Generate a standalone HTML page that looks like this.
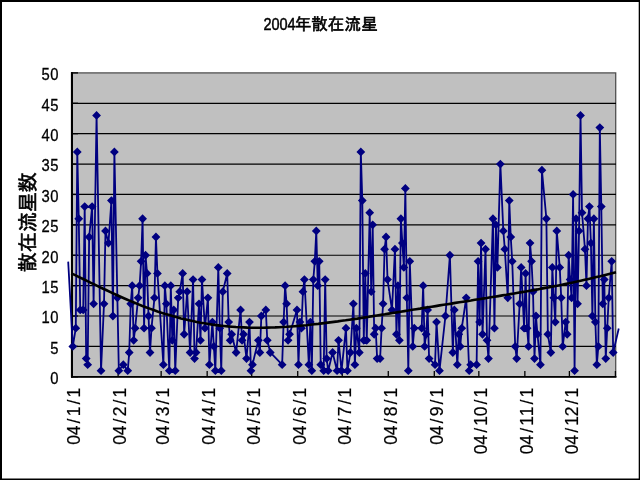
<!DOCTYPE html>
<html><head><meta charset="utf-8"><style>
html,body{margin:0;padding:0;background:#fff;}
#c{position:relative;width:640px;height:480px;overflow:hidden;background:#fff;}
svg{position:absolute;left:0;top:0;will-change:transform;}
text{font-family:"Liberation Sans","IPAGothic",sans-serif;fill:#000;}
</style></head><body><div id="c">
<svg width="640" height="480" viewBox="0 0 640 480">
<rect x="1" y="1" width="638.7" height="478.5" fill="#fff" stroke="#000" stroke-width="2"/>
<rect x="71.5" y="72.9" width="544.2" height="303.9" fill="#c0c0c0" stroke="#505050" stroke-width="1.3"/>
<g stroke="#000" stroke-width="1.2"><line x1="71" x2="616" y1="346.41" y2="346.41"/><line x1="71" x2="616" y1="316.02" y2="316.02"/><line x1="71" x2="616" y1="285.63" y2="285.63"/><line x1="71" x2="616" y1="255.24" y2="255.24"/><line x1="71" x2="616" y1="224.85" y2="224.85"/><line x1="71" x2="616" y1="194.46" y2="194.46"/><line x1="71" x2="616" y1="164.07" y2="164.07"/><line x1="71" x2="616" y1="133.68" y2="133.68"/><line x1="71" x2="616" y1="103.29" y2="103.29"/></g>
<g stroke="#000" stroke-width="1.3"><line x1="71" x2="78" y1="376.80" y2="376.80"/><line x1="71" x2="78" y1="346.41" y2="346.41"/><line x1="71" x2="78" y1="316.02" y2="316.02"/><line x1="71" x2="78" y1="285.63" y2="285.63"/><line x1="71" x2="78" y1="255.24" y2="255.24"/><line x1="71" x2="78" y1="224.85" y2="224.85"/><line x1="71" x2="78" y1="194.46" y2="194.46"/><line x1="71" x2="78" y1="164.07" y2="164.07"/><line x1="71" x2="78" y1="133.68" y2="133.68"/><line x1="71" x2="78" y1="103.29" y2="103.29"/><line x1="71" x2="78" y1="72.90" y2="72.90"/><line x1="72.08" x2="72.08" y1="371" y2="377"/><line x1="118.10" x2="118.10" y1="371" y2="377"/><line x1="161.15" x2="161.15" y1="371" y2="377"/><line x1="207.17" x2="207.17" y1="371" y2="377"/><line x1="251.70" x2="251.70" y1="371" y2="377"/><line x1="297.72" x2="297.72" y1="371" y2="377"/><line x1="342.26" x2="342.26" y1="371" y2="377"/><line x1="388.28" x2="388.28" y1="371" y2="377"/><line x1="434.30" x2="434.30" y1="371" y2="377"/><line x1="478.83" x2="478.83" y1="371" y2="377"/><line x1="524.85" x2="524.85" y1="371" y2="377"/><line x1="569.39" x2="569.39" y1="371" y2="377"/><line x1="615.41" x2="615.41" y1="371" y2="377"/></g>
<line x1="72" y1="72.2" x2="72" y2="377.6" stroke="#000" stroke-width="2"/>
<line x1="71" y1="376.9" x2="616.4" y2="376.9" stroke="#000" stroke-width="1.8"/>
<polyline points="68.2,261.6 72.82,346.41 75.79,328.18 77.28,151.91 78.76,218.77 80.24,309.94 83.21,309.94 84.70,206.62 86.18,358.57 87.67,364.64 89.15,237.01 92.12,206.62 93.61,303.86 96.57,115.45 101.03,370.72 104.00,303.86 105.48,230.93 108.45,243.08 111.42,200.54 112.90,316.02 114.39,151.91 117.36,297.79 118.84,370.72 123.30,364.64 127.75,370.72 129.23,352.49 130.72,303.86 132.20,285.63 133.69,340.33 135.17,328.18 138.14,297.79 139.62,285.63 141.11,261.32 142.59,218.77 144.08,328.18 145.56,255.24 147.05,273.47 148.53,316.02 150.02,352.49 151.50,328.18 154.47,297.79 155.95,237.01 157.44,273.47 163.38,364.64 164.86,285.63 166.35,303.86 169.31,370.72 170.80,285.63 172.28,340.33 173.77,309.94 175.25,370.72 178.22,297.79 179.71,291.71 182.68,273.47 184.16,334.25 187.13,291.71 190.10,352.49 193.07,279.55 194.55,358.57 196.04,352.49 199.00,303.86 200.49,340.33 201.97,279.55 204.94,328.18 207.91,297.79 209.40,364.64 212.37,322.10 213.85,346.41 215.33,370.72 218.30,267.40 219.79,328.18 221.27,370.72 222.76,291.71 227.21,273.47 228.69,322.10 230.18,340.33 231.66,334.25 236.12,352.49 240.57,309.94 242.06,340.33 243.54,334.25 246.51,358.57 249.48,322.10 250.96,370.72 252.45,364.64 258.38,340.33 259.87,352.49 261.35,316.02 265.81,309.94 267.29,340.33 270.26,352.49 282.14,364.64 283.62,322.10 285.11,285.63 286.59,303.86 288.07,340.33 289.56,334.25 296.98,309.94 298.47,364.64 299.95,322.10 301.44,328.18 302.92,291.71 304.40,279.55 308.86,364.64 310.34,322.10 311.83,370.72 313.31,279.55 314.80,261.32 316.28,230.93 317.76,285.63 319.25,261.32 320.73,364.64 323.70,370.72 325.19,279.55 326.67,358.57 328.16,370.72 332.61,352.49 337.06,370.72 338.55,340.33 341.52,370.72 345.97,328.18 347.45,370.72 350.42,352.49 353.39,303.86 354.88,364.64 356.36,328.18 359.33,352.49 360.82,151.91 362.30,200.54 363.78,340.33 365.27,273.47 366.75,340.33 369.72,212.69 371.21,291.71 372.69,224.85 374.18,334.25 375.66,328.18 377.14,358.57 380.11,358.57 381.60,328.18 383.08,303.86 384.57,249.16 386.05,237.01 387.54,279.55 391.99,309.94 394.96,249.16 396.44,334.25 397.93,285.63 399.41,340.33 400.90,218.77 402.38,243.08 403.87,267.40 405.35,188.38 406.83,297.79 408.32,370.72 409.80,261.32 412.77,346.41 414.26,328.18 421.68,328.18 423.16,285.63 424.65,346.41 426.13,334.25 427.62,309.94 429.10,358.57 435.04,364.64 436.52,322.10 439.49,370.72 445.43,316.02 449.89,255.24 452.85,352.49 454.34,309.94 457.31,364.64 458.79,334.25 460.28,346.41 461.76,328.18 466.21,297.79 469.18,370.72 470.67,364.64 476.61,364.64 478.09,261.32 479.58,322.10 481.06,243.08 482.54,334.25 485.51,249.16 487.00,340.33 488.48,358.57 492.94,218.77 494.42,328.18 495.90,224.85 497.39,267.40 500.36,164.07 503.33,230.93 504.81,249.16 507.78,297.79 509.27,200.54 510.75,237.01 512.23,261.32 515.20,346.41 516.69,358.57 519.66,303.86 521.14,267.40 524.11,328.18 525.59,273.47 527.08,328.18 528.56,346.41 530.05,243.08 531.53,261.32 533.02,291.71 534.50,358.57 535.99,316.02 537.47,334.25 540.44,364.64 541.92,170.15 546.38,218.77 547.86,334.25 550.83,352.49 552.32,267.40 553.80,297.79 555.28,322.10 556.77,230.93 559.74,267.40 561.22,297.79 562.71,346.41 565.68,322.10 567.16,334.25 568.65,255.24 570.13,279.55 571.61,297.79 573.10,194.46 574.58,370.72 576.07,218.77 577.55,303.86 579.04,230.93 580.52,115.45 582.01,212.69 584.97,249.16 586.46,285.63 587.94,218.77 589.43,206.62 590.91,243.08 592.40,316.02 593.88,218.77 595.37,322.10 596.85,364.64 598.34,346.41 599.82,127.60 601.30,206.62 602.79,303.86 604.27,279.55 605.76,358.57 607.24,328.18 608.73,297.79 611.70,261.32 613.18,352.49 618.75,328.5" fill="none" stroke="#000080" stroke-width="1.8" stroke-linejoin="round"/>
<path d="M72.82 342.01l4.4 4.4 -4.4 4.4 -4.4 -4.4zM75.79 323.78l4.4 4.4 -4.4 4.4 -4.4 -4.4zM77.28 147.51l4.4 4.4 -4.4 4.4 -4.4 -4.4zM78.76 214.37l4.4 4.4 -4.4 4.4 -4.4 -4.4zM80.24 305.54l4.4 4.4 -4.4 4.4 -4.4 -4.4zM83.21 305.54l4.4 4.4 -4.4 4.4 -4.4 -4.4zM84.70 202.22l4.4 4.4 -4.4 4.4 -4.4 -4.4zM86.18 354.17l4.4 4.4 -4.4 4.4 -4.4 -4.4zM87.67 360.24l4.4 4.4 -4.4 4.4 -4.4 -4.4zM89.15 232.61l4.4 4.4 -4.4 4.4 -4.4 -4.4zM92.12 202.22l4.4 4.4 -4.4 4.4 -4.4 -4.4zM93.61 299.46l4.4 4.4 -4.4 4.4 -4.4 -4.4zM96.57 111.05l4.4 4.4 -4.4 4.4 -4.4 -4.4zM101.03 366.32l4.4 4.4 -4.4 4.4 -4.4 -4.4zM104.00 299.46l4.4 4.4 -4.4 4.4 -4.4 -4.4zM105.48 226.53l4.4 4.4 -4.4 4.4 -4.4 -4.4zM108.45 238.68l4.4 4.4 -4.4 4.4 -4.4 -4.4zM111.42 196.14l4.4 4.4 -4.4 4.4 -4.4 -4.4zM112.90 311.62l4.4 4.4 -4.4 4.4 -4.4 -4.4zM114.39 147.51l4.4 4.4 -4.4 4.4 -4.4 -4.4zM117.36 293.39l4.4 4.4 -4.4 4.4 -4.4 -4.4zM118.84 366.32l4.4 4.4 -4.4 4.4 -4.4 -4.4zM123.30 360.24l4.4 4.4 -4.4 4.4 -4.4 -4.4zM127.75 366.32l4.4 4.4 -4.4 4.4 -4.4 -4.4zM129.23 348.09l4.4 4.4 -4.4 4.4 -4.4 -4.4zM130.72 299.46l4.4 4.4 -4.4 4.4 -4.4 -4.4zM132.20 281.23l4.4 4.4 -4.4 4.4 -4.4 -4.4zM133.69 335.93l4.4 4.4 -4.4 4.4 -4.4 -4.4zM135.17 323.78l4.4 4.4 -4.4 4.4 -4.4 -4.4zM138.14 293.39l4.4 4.4 -4.4 4.4 -4.4 -4.4zM139.62 281.23l4.4 4.4 -4.4 4.4 -4.4 -4.4zM141.11 256.92l4.4 4.4 -4.4 4.4 -4.4 -4.4zM142.59 214.37l4.4 4.4 -4.4 4.4 -4.4 -4.4zM144.08 323.78l4.4 4.4 -4.4 4.4 -4.4 -4.4zM145.56 250.84l4.4 4.4 -4.4 4.4 -4.4 -4.4zM147.05 269.07l4.4 4.4 -4.4 4.4 -4.4 -4.4zM148.53 311.62l4.4 4.4 -4.4 4.4 -4.4 -4.4zM150.02 348.09l4.4 4.4 -4.4 4.4 -4.4 -4.4zM151.50 323.78l4.4 4.4 -4.4 4.4 -4.4 -4.4zM154.47 293.39l4.4 4.4 -4.4 4.4 -4.4 -4.4zM155.95 232.61l4.4 4.4 -4.4 4.4 -4.4 -4.4zM157.44 269.07l4.4 4.4 -4.4 4.4 -4.4 -4.4zM163.38 360.24l4.4 4.4 -4.4 4.4 -4.4 -4.4zM164.86 281.23l4.4 4.4 -4.4 4.4 -4.4 -4.4zM166.35 299.46l4.4 4.4 -4.4 4.4 -4.4 -4.4zM169.31 366.32l4.4 4.4 -4.4 4.4 -4.4 -4.4zM170.80 281.23l4.4 4.4 -4.4 4.4 -4.4 -4.4zM172.28 335.93l4.4 4.4 -4.4 4.4 -4.4 -4.4zM173.77 305.54l4.4 4.4 -4.4 4.4 -4.4 -4.4zM175.25 366.32l4.4 4.4 -4.4 4.4 -4.4 -4.4zM178.22 293.39l4.4 4.4 -4.4 4.4 -4.4 -4.4zM179.71 287.31l4.4 4.4 -4.4 4.4 -4.4 -4.4zM182.68 269.07l4.4 4.4 -4.4 4.4 -4.4 -4.4zM184.16 329.85l4.4 4.4 -4.4 4.4 -4.4 -4.4zM187.13 287.31l4.4 4.4 -4.4 4.4 -4.4 -4.4zM190.10 348.09l4.4 4.4 -4.4 4.4 -4.4 -4.4zM193.07 275.15l4.4 4.4 -4.4 4.4 -4.4 -4.4zM194.55 354.17l4.4 4.4 -4.4 4.4 -4.4 -4.4zM196.04 348.09l4.4 4.4 -4.4 4.4 -4.4 -4.4zM199.00 299.46l4.4 4.4 -4.4 4.4 -4.4 -4.4zM200.49 335.93l4.4 4.4 -4.4 4.4 -4.4 -4.4zM201.97 275.15l4.4 4.4 -4.4 4.4 -4.4 -4.4zM204.94 323.78l4.4 4.4 -4.4 4.4 -4.4 -4.4zM207.91 293.39l4.4 4.4 -4.4 4.4 -4.4 -4.4zM209.40 360.24l4.4 4.4 -4.4 4.4 -4.4 -4.4zM212.37 317.70l4.4 4.4 -4.4 4.4 -4.4 -4.4zM213.85 342.01l4.4 4.4 -4.4 4.4 -4.4 -4.4zM215.33 366.32l4.4 4.4 -4.4 4.4 -4.4 -4.4zM218.30 263.00l4.4 4.4 -4.4 4.4 -4.4 -4.4zM219.79 323.78l4.4 4.4 -4.4 4.4 -4.4 -4.4zM221.27 366.32l4.4 4.4 -4.4 4.4 -4.4 -4.4zM222.76 287.31l4.4 4.4 -4.4 4.4 -4.4 -4.4zM227.21 269.07l4.4 4.4 -4.4 4.4 -4.4 -4.4zM228.69 317.70l4.4 4.4 -4.4 4.4 -4.4 -4.4zM230.18 335.93l4.4 4.4 -4.4 4.4 -4.4 -4.4zM231.66 329.85l4.4 4.4 -4.4 4.4 -4.4 -4.4zM236.12 348.09l4.4 4.4 -4.4 4.4 -4.4 -4.4zM240.57 305.54l4.4 4.4 -4.4 4.4 -4.4 -4.4zM242.06 335.93l4.4 4.4 -4.4 4.4 -4.4 -4.4zM243.54 329.85l4.4 4.4 -4.4 4.4 -4.4 -4.4zM246.51 354.17l4.4 4.4 -4.4 4.4 -4.4 -4.4zM249.48 317.70l4.4 4.4 -4.4 4.4 -4.4 -4.4zM250.96 366.32l4.4 4.4 -4.4 4.4 -4.4 -4.4zM252.45 360.24l4.4 4.4 -4.4 4.4 -4.4 -4.4zM258.38 335.93l4.4 4.4 -4.4 4.4 -4.4 -4.4zM259.87 348.09l4.4 4.4 -4.4 4.4 -4.4 -4.4zM261.35 311.62l4.4 4.4 -4.4 4.4 -4.4 -4.4zM265.81 305.54l4.4 4.4 -4.4 4.4 -4.4 -4.4zM267.29 335.93l4.4 4.4 -4.4 4.4 -4.4 -4.4zM270.26 348.09l4.4 4.4 -4.4 4.4 -4.4 -4.4zM282.14 360.24l4.4 4.4 -4.4 4.4 -4.4 -4.4zM283.62 317.70l4.4 4.4 -4.4 4.4 -4.4 -4.4zM285.11 281.23l4.4 4.4 -4.4 4.4 -4.4 -4.4zM286.59 299.46l4.4 4.4 -4.4 4.4 -4.4 -4.4zM288.07 335.93l4.4 4.4 -4.4 4.4 -4.4 -4.4zM289.56 329.85l4.4 4.4 -4.4 4.4 -4.4 -4.4zM296.98 305.54l4.4 4.4 -4.4 4.4 -4.4 -4.4zM298.47 360.24l4.4 4.4 -4.4 4.4 -4.4 -4.4zM299.95 317.70l4.4 4.4 -4.4 4.4 -4.4 -4.4zM301.44 323.78l4.4 4.4 -4.4 4.4 -4.4 -4.4zM302.92 287.31l4.4 4.4 -4.4 4.4 -4.4 -4.4zM304.40 275.15l4.4 4.4 -4.4 4.4 -4.4 -4.4zM308.86 360.24l4.4 4.4 -4.4 4.4 -4.4 -4.4zM310.34 317.70l4.4 4.4 -4.4 4.4 -4.4 -4.4zM311.83 366.32l4.4 4.4 -4.4 4.4 -4.4 -4.4zM313.31 275.15l4.4 4.4 -4.4 4.4 -4.4 -4.4zM314.80 256.92l4.4 4.4 -4.4 4.4 -4.4 -4.4zM316.28 226.53l4.4 4.4 -4.4 4.4 -4.4 -4.4zM317.76 281.23l4.4 4.4 -4.4 4.4 -4.4 -4.4zM319.25 256.92l4.4 4.4 -4.4 4.4 -4.4 -4.4zM320.73 360.24l4.4 4.4 -4.4 4.4 -4.4 -4.4zM323.70 366.32l4.4 4.4 -4.4 4.4 -4.4 -4.4zM325.19 275.15l4.4 4.4 -4.4 4.4 -4.4 -4.4zM326.67 354.17l4.4 4.4 -4.4 4.4 -4.4 -4.4zM328.16 366.32l4.4 4.4 -4.4 4.4 -4.4 -4.4zM332.61 348.09l4.4 4.4 -4.4 4.4 -4.4 -4.4zM337.06 366.32l4.4 4.4 -4.4 4.4 -4.4 -4.4zM338.55 335.93l4.4 4.4 -4.4 4.4 -4.4 -4.4zM341.52 366.32l4.4 4.4 -4.4 4.4 -4.4 -4.4zM345.97 323.78l4.4 4.4 -4.4 4.4 -4.4 -4.4zM347.45 366.32l4.4 4.4 -4.4 4.4 -4.4 -4.4zM350.42 348.09l4.4 4.4 -4.4 4.4 -4.4 -4.4zM353.39 299.46l4.4 4.4 -4.4 4.4 -4.4 -4.4zM354.88 360.24l4.4 4.4 -4.4 4.4 -4.4 -4.4zM356.36 323.78l4.4 4.4 -4.4 4.4 -4.4 -4.4zM359.33 348.09l4.4 4.4 -4.4 4.4 -4.4 -4.4zM360.82 147.51l4.4 4.4 -4.4 4.4 -4.4 -4.4zM362.30 196.14l4.4 4.4 -4.4 4.4 -4.4 -4.4zM363.78 335.93l4.4 4.4 -4.4 4.4 -4.4 -4.4zM365.27 269.07l4.4 4.4 -4.4 4.4 -4.4 -4.4zM366.75 335.93l4.4 4.4 -4.4 4.4 -4.4 -4.4zM369.72 208.29l4.4 4.4 -4.4 4.4 -4.4 -4.4zM371.21 287.31l4.4 4.4 -4.4 4.4 -4.4 -4.4zM372.69 220.45l4.4 4.4 -4.4 4.4 -4.4 -4.4zM374.18 329.85l4.4 4.4 -4.4 4.4 -4.4 -4.4zM375.66 323.78l4.4 4.4 -4.4 4.4 -4.4 -4.4zM377.14 354.17l4.4 4.4 -4.4 4.4 -4.4 -4.4zM380.11 354.17l4.4 4.4 -4.4 4.4 -4.4 -4.4zM381.60 323.78l4.4 4.4 -4.4 4.4 -4.4 -4.4zM383.08 299.46l4.4 4.4 -4.4 4.4 -4.4 -4.4zM384.57 244.76l4.4 4.4 -4.4 4.4 -4.4 -4.4zM386.05 232.61l4.4 4.4 -4.4 4.4 -4.4 -4.4zM387.54 275.15l4.4 4.4 -4.4 4.4 -4.4 -4.4zM391.99 305.54l4.4 4.4 -4.4 4.4 -4.4 -4.4zM394.96 244.76l4.4 4.4 -4.4 4.4 -4.4 -4.4zM396.44 329.85l4.4 4.4 -4.4 4.4 -4.4 -4.4zM397.93 281.23l4.4 4.4 -4.4 4.4 -4.4 -4.4zM399.41 335.93l4.4 4.4 -4.4 4.4 -4.4 -4.4zM400.90 214.37l4.4 4.4 -4.4 4.4 -4.4 -4.4zM402.38 238.68l4.4 4.4 -4.4 4.4 -4.4 -4.4zM403.87 263.00l4.4 4.4 -4.4 4.4 -4.4 -4.4zM405.35 183.98l4.4 4.4 -4.4 4.4 -4.4 -4.4zM406.83 293.39l4.4 4.4 -4.4 4.4 -4.4 -4.4zM408.32 366.32l4.4 4.4 -4.4 4.4 -4.4 -4.4zM409.80 256.92l4.4 4.4 -4.4 4.4 -4.4 -4.4zM412.77 342.01l4.4 4.4 -4.4 4.4 -4.4 -4.4zM414.26 323.78l4.4 4.4 -4.4 4.4 -4.4 -4.4zM421.68 323.78l4.4 4.4 -4.4 4.4 -4.4 -4.4zM423.16 281.23l4.4 4.4 -4.4 4.4 -4.4 -4.4zM424.65 342.01l4.4 4.4 -4.4 4.4 -4.4 -4.4zM426.13 329.85l4.4 4.4 -4.4 4.4 -4.4 -4.4zM427.62 305.54l4.4 4.4 -4.4 4.4 -4.4 -4.4zM429.10 354.17l4.4 4.4 -4.4 4.4 -4.4 -4.4zM435.04 360.24l4.4 4.4 -4.4 4.4 -4.4 -4.4zM436.52 317.70l4.4 4.4 -4.4 4.4 -4.4 -4.4zM439.49 366.32l4.4 4.4 -4.4 4.4 -4.4 -4.4zM445.43 311.62l4.4 4.4 -4.4 4.4 -4.4 -4.4zM449.89 250.84l4.4 4.4 -4.4 4.4 -4.4 -4.4zM452.85 348.09l4.4 4.4 -4.4 4.4 -4.4 -4.4zM454.34 305.54l4.4 4.4 -4.4 4.4 -4.4 -4.4zM457.31 360.24l4.4 4.4 -4.4 4.4 -4.4 -4.4zM458.79 329.85l4.4 4.4 -4.4 4.4 -4.4 -4.4zM460.28 342.01l4.4 4.4 -4.4 4.4 -4.4 -4.4zM461.76 323.78l4.4 4.4 -4.4 4.4 -4.4 -4.4zM466.21 293.39l4.4 4.4 -4.4 4.4 -4.4 -4.4zM469.18 366.32l4.4 4.4 -4.4 4.4 -4.4 -4.4zM470.67 360.24l4.4 4.4 -4.4 4.4 -4.4 -4.4zM476.61 360.24l4.4 4.4 -4.4 4.4 -4.4 -4.4zM478.09 256.92l4.4 4.4 -4.4 4.4 -4.4 -4.4zM479.58 317.70l4.4 4.4 -4.4 4.4 -4.4 -4.4zM481.06 238.68l4.4 4.4 -4.4 4.4 -4.4 -4.4zM482.54 329.85l4.4 4.4 -4.4 4.4 -4.4 -4.4zM485.51 244.76l4.4 4.4 -4.4 4.4 -4.4 -4.4zM487.00 335.93l4.4 4.4 -4.4 4.4 -4.4 -4.4zM488.48 354.17l4.4 4.4 -4.4 4.4 -4.4 -4.4zM492.94 214.37l4.4 4.4 -4.4 4.4 -4.4 -4.4zM494.42 323.78l4.4 4.4 -4.4 4.4 -4.4 -4.4zM495.90 220.45l4.4 4.4 -4.4 4.4 -4.4 -4.4zM497.39 263.00l4.4 4.4 -4.4 4.4 -4.4 -4.4zM500.36 159.67l4.4 4.4 -4.4 4.4 -4.4 -4.4zM503.33 226.53l4.4 4.4 -4.4 4.4 -4.4 -4.4zM504.81 244.76l4.4 4.4 -4.4 4.4 -4.4 -4.4zM507.78 293.39l4.4 4.4 -4.4 4.4 -4.4 -4.4zM509.27 196.14l4.4 4.4 -4.4 4.4 -4.4 -4.4zM510.75 232.61l4.4 4.4 -4.4 4.4 -4.4 -4.4zM512.23 256.92l4.4 4.4 -4.4 4.4 -4.4 -4.4zM515.20 342.01l4.4 4.4 -4.4 4.4 -4.4 -4.4zM516.69 354.17l4.4 4.4 -4.4 4.4 -4.4 -4.4zM519.66 299.46l4.4 4.4 -4.4 4.4 -4.4 -4.4zM521.14 263.00l4.4 4.4 -4.4 4.4 -4.4 -4.4zM524.11 323.78l4.4 4.4 -4.4 4.4 -4.4 -4.4zM525.59 269.07l4.4 4.4 -4.4 4.4 -4.4 -4.4zM527.08 323.78l4.4 4.4 -4.4 4.4 -4.4 -4.4zM528.56 342.01l4.4 4.4 -4.4 4.4 -4.4 -4.4zM530.05 238.68l4.4 4.4 -4.4 4.4 -4.4 -4.4zM531.53 256.92l4.4 4.4 -4.4 4.4 -4.4 -4.4zM533.02 287.31l4.4 4.4 -4.4 4.4 -4.4 -4.4zM534.50 354.17l4.4 4.4 -4.4 4.4 -4.4 -4.4zM535.99 311.62l4.4 4.4 -4.4 4.4 -4.4 -4.4zM537.47 329.85l4.4 4.4 -4.4 4.4 -4.4 -4.4zM540.44 360.24l4.4 4.4 -4.4 4.4 -4.4 -4.4zM541.92 165.75l4.4 4.4 -4.4 4.4 -4.4 -4.4zM546.38 214.37l4.4 4.4 -4.4 4.4 -4.4 -4.4zM547.86 329.85l4.4 4.4 -4.4 4.4 -4.4 -4.4zM550.83 348.09l4.4 4.4 -4.4 4.4 -4.4 -4.4zM552.32 263.00l4.4 4.4 -4.4 4.4 -4.4 -4.4zM553.80 293.39l4.4 4.4 -4.4 4.4 -4.4 -4.4zM555.28 317.70l4.4 4.4 -4.4 4.4 -4.4 -4.4zM556.77 226.53l4.4 4.4 -4.4 4.4 -4.4 -4.4zM559.74 263.00l4.4 4.4 -4.4 4.4 -4.4 -4.4zM561.22 293.39l4.4 4.4 -4.4 4.4 -4.4 -4.4zM562.71 342.01l4.4 4.4 -4.4 4.4 -4.4 -4.4zM565.68 317.70l4.4 4.4 -4.4 4.4 -4.4 -4.4zM567.16 329.85l4.4 4.4 -4.4 4.4 -4.4 -4.4zM568.65 250.84l4.4 4.4 -4.4 4.4 -4.4 -4.4zM570.13 275.15l4.4 4.4 -4.4 4.4 -4.4 -4.4zM571.61 293.39l4.4 4.4 -4.4 4.4 -4.4 -4.4zM573.10 190.06l4.4 4.4 -4.4 4.4 -4.4 -4.4zM574.58 366.32l4.4 4.4 -4.4 4.4 -4.4 -4.4zM576.07 214.37l4.4 4.4 -4.4 4.4 -4.4 -4.4zM577.55 299.46l4.4 4.4 -4.4 4.4 -4.4 -4.4zM579.04 226.53l4.4 4.4 -4.4 4.4 -4.4 -4.4zM580.52 111.05l4.4 4.4 -4.4 4.4 -4.4 -4.4zM582.01 208.29l4.4 4.4 -4.4 4.4 -4.4 -4.4zM584.97 244.76l4.4 4.4 -4.4 4.4 -4.4 -4.4zM586.46 281.23l4.4 4.4 -4.4 4.4 -4.4 -4.4zM587.94 214.37l4.4 4.4 -4.4 4.4 -4.4 -4.4zM589.43 202.22l4.4 4.4 -4.4 4.4 -4.4 -4.4zM590.91 238.68l4.4 4.4 -4.4 4.4 -4.4 -4.4zM592.40 311.62l4.4 4.4 -4.4 4.4 -4.4 -4.4zM593.88 214.37l4.4 4.4 -4.4 4.4 -4.4 -4.4zM595.37 317.70l4.4 4.4 -4.4 4.4 -4.4 -4.4zM596.85 360.24l4.4 4.4 -4.4 4.4 -4.4 -4.4zM598.34 342.01l4.4 4.4 -4.4 4.4 -4.4 -4.4zM599.82 123.20l4.4 4.4 -4.4 4.4 -4.4 -4.4zM601.30 202.22l4.4 4.4 -4.4 4.4 -4.4 -4.4zM602.79 299.46l4.4 4.4 -4.4 4.4 -4.4 -4.4zM604.27 275.15l4.4 4.4 -4.4 4.4 -4.4 -4.4zM605.76 354.17l4.4 4.4 -4.4 4.4 -4.4 -4.4zM607.24 323.78l4.4 4.4 -4.4 4.4 -4.4 -4.4zM608.73 293.39l4.4 4.4 -4.4 4.4 -4.4 -4.4zM611.70 256.92l4.4 4.4 -4.4 4.4 -4.4 -4.4zM613.18 348.09l4.4 4.4 -4.4 4.4 -4.4 -4.4z" fill="#000080"/>
<polyline points="71.3,273.3 75.2,275.2 79.1,277.1 83.1,279.0 87.0,280.9 90.9,282.8 94.8,284.7 98.7,286.6 102.6,288.5 106.6,290.3 110.5,292.2 114.4,294.0 118.3,295.8 122.2,297.5 126.2,299.2 130.1,300.9 134.0,302.5 137.9,304.1 141.8,305.7 145.8,307.2 149.7,308.6 153.6,310.0 157.5,311.4 161.4,312.7 165.3,313.9 169.3,315.1 173.2,316.2 177.1,317.3 181.0,318.4 184.9,319.3 188.9,320.2 192.8,321.1 196.7,321.9 200.6,322.7 204.5,323.3 208.5,324.0 212.4,324.6 216.3,325.1 220.2,325.6 224.1,326.0 228.0,326.4 232.0,326.7 235.9,327.0 239.8,327.2 243.7,327.4 247.6,327.6 251.6,327.7 255.5,327.7 259.4,327.7 263.3,327.7 267.2,327.6 271.2,327.5 275.1,327.4 279.0,327.2 282.9,327.0 286.8,326.8 290.7,326.5 294.7,326.2 298.6,325.9 302.5,325.5 306.4,325.2 310.3,324.8 314.3,324.3 318.2,323.9 322.1,323.4 326.0,322.9 329.9,322.4 333.9,321.9 337.8,321.4 341.7,320.8 345.6,320.3 349.5,319.7 353.4,319.1 357.4,318.6 361.3,318.0 365.2,317.4 369.1,316.8 373.0,316.1 377.0,315.5 380.9,314.9 384.8,314.3 388.7,313.6 392.6,313.0 396.6,312.4 400.5,311.7 404.4,311.1 408.3,310.5 412.2,309.8 416.1,309.2 420.1,308.6 424.0,307.9 427.9,307.3 431.8,306.7 435.7,306.1 439.7,305.4 443.6,304.8 447.5,304.2 451.4,303.6 455.3,302.9 459.3,302.3 463.2,301.7 467.1,301.1 471.0,300.5 474.9,299.8 478.8,299.2 482.8,298.6 486.7,298.0 490.6,297.3 494.5,296.7 498.4,296.1 502.4,295.4 506.3,294.8 510.2,294.1 514.1,293.5 518.0,292.8 522.0,292.1 525.9,291.5 529.8,290.8 533.7,290.1 537.6,289.4 541.5,288.6 545.5,287.9 549.4,287.2 553.3,286.4 557.2,285.7 561.1,284.9 565.1,284.1 569.0,283.3 572.9,282.4 576.8,281.6 580.7,280.7 584.7,279.8 588.6,278.9 592.5,278.0 596.4,277.1 600.3,276.2 604.2,275.2 608.2,274.2 612.1,273.2 616.0,272.2" fill="none" stroke="#000" stroke-width="2.6"/>
<g font-size="17" stroke="#000" stroke-width="0.3" transform="translate(58.3,0) scale(0.87,1) translate(-58.3,0)"><text x="48.92" y="384.15">0</text><text x="48.92" y="353.76">5</text><text x="38.98 48.92" y="323.37">10</text><text x="38.98 48.92" y="292.98">15</text><text x="38.98 48.92" y="262.59">20</text><text x="38.98 48.92" y="232.20">25</text><text x="38.98 48.92" y="201.81">30</text><text x="38.98 48.92" y="171.42">35</text><text x="38.98 48.92" y="141.03">40</text><text x="38.98 48.92" y="110.64">45</text><text x="38.98 48.92" y="80.25">50</text></g>
<g font-size="17.5" stroke="#000" stroke-width="0.2"><text transform="translate(80.38,0) rotate(-90)" x="-444.72 -435.27 -423.38 -416.37 -404.48 -397.47">04/1/1</text><text transform="translate(126.40,0) rotate(-90)" x="-444.72 -435.27 -423.38 -416.37 -404.48 -397.47">04/2/1</text><text transform="translate(169.45,0) rotate(-90)" x="-444.72 -435.27 -423.38 -416.37 -404.48 -397.47">04/3/1</text><text transform="translate(215.47,0) rotate(-90)" x="-444.72 -435.27 -423.38 -416.37 -404.48 -397.47">04/4/1</text><text transform="translate(260.00,0) rotate(-90)" x="-444.72 -435.27 -423.38 -416.37 -404.48 -397.47">04/5/1</text><text transform="translate(306.02,0) rotate(-90)" x="-444.72 -435.27 -423.38 -416.37 -404.48 -397.47">04/6/1</text><text transform="translate(350.56,0) rotate(-90)" x="-444.72 -435.27 -423.38 -416.37 -404.48 -397.47">04/7/1</text><text transform="translate(396.58,0) rotate(-90)" x="-444.72 -435.27 -423.38 -416.37 -404.48 -397.47">04/8/1</text><text transform="translate(442.60,0) rotate(-90)" x="-444.72 -435.27 -423.38 -416.37 -404.48 -397.47">04/9/1</text><text transform="translate(487.13,0) rotate(-90)" x="-454.17 -444.72 -432.83 -425.82 -416.37 -404.48 -397.47">04/10/1</text><text transform="translate(533.15,0) rotate(-90)" x="-454.17 -444.72 -432.83 -425.82 -416.37 -404.48 -397.47">04/11/1</text><text transform="translate(577.69,0) rotate(-90)" x="-454.17 -444.72 -432.83 -425.82 -416.37 -404.48 -397.47">04/12/1</text></g>
<text y="29.5" font-size="16" stroke="#000" stroke-width="0.45"><tspan x="263.4" textLength="32.2" lengthAdjust="spacingAndGlyphs">2004</tspan><tspan x="294.65 311.15 327.75 344.45 361.15" font-size="16.5" stroke-width="0.6">年散在流星</tspan></text>
<text transform="translate(34.5,222.2) rotate(-90)" font-size="20" text-anchor="middle" stroke="#000" stroke-width="0.6">散在流星数</text>
</svg></div></body></html>
